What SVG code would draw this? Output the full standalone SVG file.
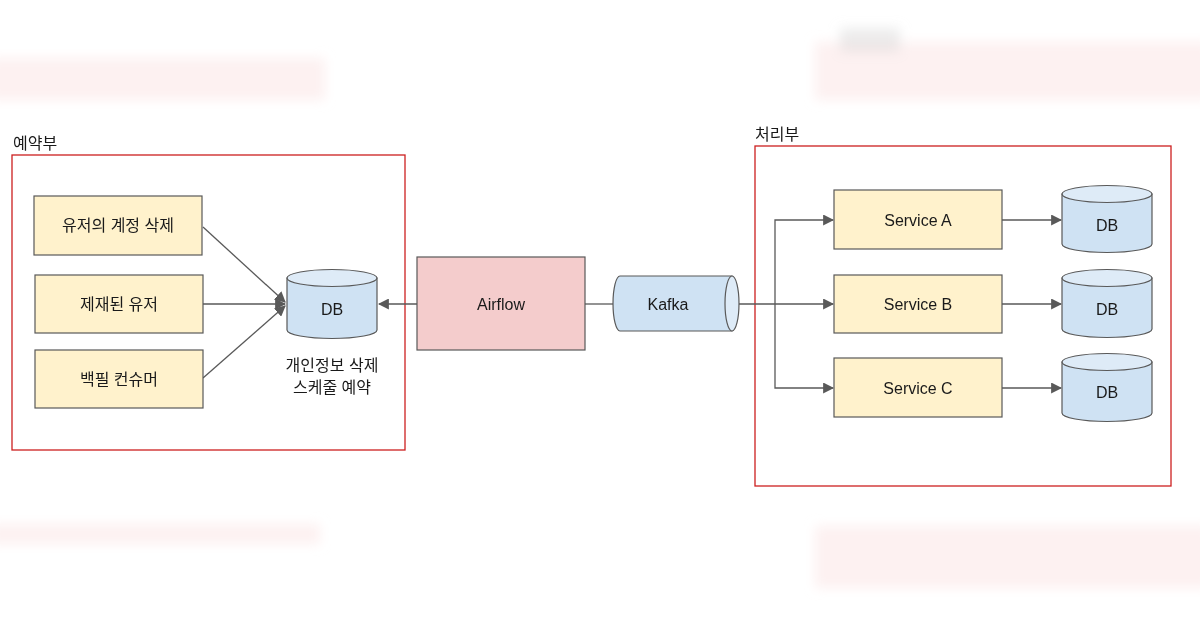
<svg xmlns="http://www.w3.org/2000/svg" width="1200" height="628" viewBox="0 0 1200 628">
<style>
text{font-family:"Liberation Sans","Noto Sans CJK KR",Arial,sans-serif;font-size:16px;fill:#1a1a1a}
.lbl{text-anchor:middle;dominant-baseline:central}
.frame{fill:none;stroke:#cc1f1f;stroke-width:1.3}
.box{fill:#fff2cc;stroke:#595959;stroke-width:1.2}
.air{fill:#f4cccc;stroke:#595959;stroke-width:1.2}
.cyl{fill:#cfe2f3;stroke:#595959;stroke-width:1.2}
.cyltop{fill:#deebf7;stroke:#595959;stroke-width:1.2}
.edge{fill:none;stroke:#595959;stroke-width:1.3}
.smudge{fill:#fbe6e6;opacity:0.55}
</style>
<defs>
<marker id="arr" viewBox="0 0 10 10" refX="9" refY="5" markerWidth="11" markerHeight="11" markerUnits="userSpaceOnUse" orient="auto">
<path d="M0,0 L10,5 L0,10 z" fill="#595959"/>
</marker>
<filter id="blur" x="-20%" y="-50%" width="140%" height="200%"><feGaussianBlur stdDeviation="6"/></filter>
</defs>
<rect width="1200" height="628" fill="#ffffff"/>
<g id="background-smudges" filter="url(#blur)">
<rect class="smudge" x="-10" y="58" width="335" height="42"/>
<rect class="smudge" x="815" y="42" width="395" height="58"/>
<rect x="840" y="28" width="60" height="24" fill="#d8d8d8" opacity="0.45"/>
<rect class="smudge" x="-10" y="524" width="330" height="20"/>
<rect class="smudge" x="815" y="526" width="395" height="62"/>
</g>
<g id="frame-reserve">
<rect class="frame" x="12" y="155" width="393" height="295"/>
<text x="13" y="149">예약부</text>
</g>
<g id="frame-process">
<rect class="frame" x="755" y="146" width="416" height="340"/>
<text x="755" y="140">처리부</text>
</g>
<g id="connectors">
<line class="edge" x1="203" y1="227" x2="285" y2="302" marker-end="url(#arr)"/>
<line class="edge" x1="203" y1="304" x2="285" y2="304" marker-end="url(#arr)"/>
<line class="edge" x1="203" y1="378" x2="285" y2="306" marker-end="url(#arr)"/>
<line class="edge" x1="417" y1="304" x2="379" y2="304" marker-end="url(#arr)"/>
<line class="edge" x1="585" y1="304" x2="613" y2="304"/>
<line class="edge" x1="739" y1="304" x2="833" y2="304" marker-end="url(#arr)"/>
<polyline class="edge" points="775,304 775,220 833,220" marker-end="url(#arr)"/>
<polyline class="edge" points="775,304 775,388 833,388" marker-end="url(#arr)"/>
<line class="edge" x1="1002" y1="220" x2="1061" y2="220" marker-end="url(#arr)"/>
<line class="edge" x1="1002" y1="304" x2="1061" y2="304" marker-end="url(#arr)"/>
<line class="edge" x1="1002" y1="388" x2="1061" y2="388" marker-end="url(#arr)"/>
</g>
<g id="node-delete-account">
<rect class="box" x="34" y="196" width="168" height="59"/>
<text class="lbl" x="118" y="225.5">유저의 계정 삭제</text>
</g>
<g id="node-banned-user">
<rect class="box" x="35" y="275" width="168" height="58"/>
<text class="lbl" x="119" y="304">제재된 유저</text>
</g>
<g id="node-backfill">
<rect class="box" x="35" y="350" width="168" height="58"/>
<text class="lbl" x="119" y="379">백필 컨슈머</text>
</g>
<g id="node-db-schedule">
<path class="cyl" d="M287,278 L287,330 A45,8.5 0 0 0 377,330 L377,278 Z"/>
<ellipse class="cyltop" cx="332" cy="278" rx="45" ry="8.5"/>
<text class="lbl" x="332" y="309">DB</text>
<text class="lbl" x="332" y="365">개인정보 삭제</text>
<text class="lbl" x="332" y="387">스케줄 예약</text>
</g>
<g id="node-airflow">
<rect class="air" x="417" y="257" width="168" height="93"/>
<text class="lbl" x="501" y="304">Airflow</text>
</g>
<g id="node-kafka">
<path class="cyl" d="M732,276 L620,276 A7,27.5 0 0 0 620,331 L732,331 Z"/>
<ellipse class="cyltop" cx="732" cy="303.5" rx="7" ry="27.5"/>
<text class="lbl" x="668" y="304">Kafka</text>
</g>
<g id="node-service-a">
<rect class="box" x="834" y="190" width="168" height="59"/>
<text class="lbl" x="918" y="220">Service A</text>
</g>
<g id="node-service-b">
<rect class="box" x="834" y="275" width="168" height="58"/>
<text class="lbl" x="918" y="304">Service B</text>
</g>
<g id="node-service-c">
<rect class="box" x="834" y="358" width="168" height="59"/>
<text class="lbl" x="918" y="388">Service C</text>
</g>
<g id="node-db-a">
<path class="cyl" d="M1062,194 L1062,244 A45,8.5 0 0 0 1152,244 L1152,194 Z"/>
<ellipse class="cyltop" cx="1107" cy="194" rx="45" ry="8.5"/>
<text class="lbl" x="1107" y="225">DB</text>
</g>
<g id="node-db-b">
<path class="cyl" d="M1062,278 L1062,329 A45,8.5 0 0 0 1152,329 L1152,278 Z"/>
<ellipse class="cyltop" cx="1107" cy="278" rx="45" ry="8.5"/>
<text class="lbl" x="1107" y="309">DB</text>
</g>
<g id="node-db-c">
<path class="cyl" d="M1062,362 L1062,413 A45,8.5 0 0 0 1152,413 L1152,362 Z"/>
<ellipse class="cyltop" cx="1107" cy="362" rx="45" ry="8.5"/>
<text class="lbl" x="1107" y="392">DB</text>
</g>
</svg>
